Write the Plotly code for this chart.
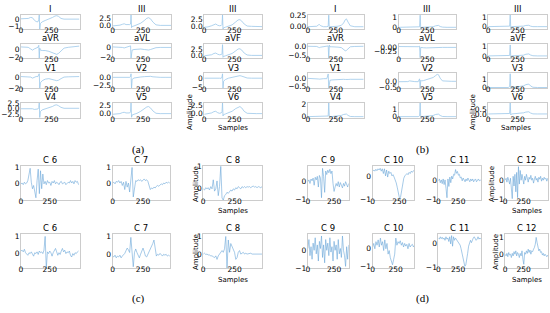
import plotly.graph_objects as go

W, H = 550, 313

# ---------------- data: panel (a) (12-lead ECG, class template) ----------------
xa = [0, 30, 60, 80, 95, 110, 125, 140, 147, 151, 155, 160, 175, 200, 230, 260, 280, 295, 310, 330, 355, 390, 430, 480]
a_I = [0.1, 0.12, 0.15, 0.3, 0.25, -0.1, -0.3, -0.35, 0.0, 0.7, -1.4, -0.6, -0.35, -0.15, 0.05, 0.3, 0.5, 0.55, 0.45, 0.15, 0.05, 0.05, 0.05, 0.05]
a_III = [-0.2, -0.1, 0.1, 0.4, 0.6, 0.3, 0.2, 0.3, 0.5, 3.9, -0.8, -0.4, -0.2, 0.2, 0.8, 1.8, 2.6, 2.8, 2.4, 1.2, 0.2, 0.0, 0.0, 0.0]
a_III_b = [-0.3, -0.2, 0.2, 0.7, 0.8, 0.4, 0.2, 0.3, 0.6, 4.0, -0.9, -0.5, -0.3, 0.0, 0.5, 1.5, 2.2, 2.3, 1.8, 0.8, 0.1, 0.0, -0.1, -0.1]
a_aVR = [0.6, 0.6, 0.5, 0.1, -0.2, 0.1, 0.4, 0.5, 1.0, -2.2, 0.3, -0.2, -0.3, -0.3, -0.5, -0.9, -1.2, -1.25, -1.0, -0.3, 0.3, 0.5, 0.6, 0.8]
a_aVL = [0.1, 0.1, 0.05, 0.0, -0.1, 0.0, 0.1, 0.2, 0.3, -2.1, -0.6, -0.5, -0.4, -0.3, -0.3, -0.4, -0.5, -0.5, -0.4, -0.2, -0.05, 0.0, 0.0, 0.0]
a_aVF = [-0.3, -0.2, 0.2, 0.8, 1.0, 0.5, 0.2, 0.3, 0.6, 5.0, -1.0, -0.6, -0.3, 0.1, 0.8, 2.0, 2.9, 3.0, 2.4, 1.0, 0.1, -0.1, -0.1, -0.1]
a_V1 = [0.2, 0.2, 0.2, 0.1, -0.1, 0.1, 0.2, 0.2, 0.6, 0.8, -2.1, -1.0, -0.6, -0.3, -0.2, -0.3, -0.5, -0.6, -0.5, -0.2, 0.1, 0.15, 0.2, 0.2]
a_V2 = [0.0, 0.0, 0.0, 0.05, 0.05, 0.0, 0.0, 0.0, 0.3, 1.1, -3.3, -0.6, -0.2, 0.0, 0.1, 0.2, 0.3, 0.35, 0.3, 0.15, 0.05, 0.0, 0.0, 0.0]
a_V3 = [0.3, 0.3, 0.4, 0.6, 0.7, 0.4, 0.3, 0.2, 1.0, 3.0, -5.8, -1.5, -0.5, 0.3, 0.8, 1.3, 1.7, 1.8, 1.5, 0.8, 0.4, 0.3, 0.3, 0.3]
a_V4 = [0.0, 0.0, 0.1, 0.2, 0.0, -0.3, -0.2, -0.1, 0.5, 2.6, -3.9, -1.2, -0.5, -0.1, 0.4, 1.0, 1.6, 1.7, 1.3, 0.6, 0.2, 0.2, 0.2, 0.2]
a_V5 = [-0.3, -0.3, -0.1, 0.2, 0.3, 0.1, 0.0, 0.1, 0.5, 3.2, -1.2, -0.5, -0.3, 0.0, 0.6, 1.4, 1.9, 2.0, 1.6, 0.7, 0.0, -0.1, -0.1, -0.1]
a_V6 = [-0.3, -0.2, 0.1, 0.5, 0.6, 0.2, 0.0, 0.1, 0.5, 3.2, -0.8, -0.4, -0.2, 0.1, 0.6, 1.4, 1.9, 2.0, 1.6, 0.6, 0.0, -0.1, -0.1, -0.1]

# ---------------- data: panel (b) ----------------
xb = [0, 40, 80, 95, 105, 115, 140, 170, 182, 187, 192, 198, 215, 240, 270, 300, 320, 335, 345, 360, 380, 420, 460, 500]
b_I = [0.0, 0.0, 0.01, 0.04, 0.045, 0.02, 0.0, 0.0, 0.01, 0.25, -0.05, 0.0, 0.0, 0.005, 0.01, 0.03, 0.08, 0.15, 0.17, 0.1, 0.02, 0.0, 0.0, 0.0]
b_III = [0.0, 0.0, 0.0, 0.03, 0.04, 0.02, 0.0, 0.0, 0.05, 1.25, -0.15, 0.0, 0.0, 0.0, 0.02, 0.06, 0.15, 0.22, 0.2, 0.08, 0.02, 0.0, 0.0, 0.0]
b_III_b = [0.0, 0.0, 0.0, 0.03, 0.03, 0.02, 0.0, 0.0, 0.05, 1.2, -0.2, 0.0, 0.0, 0.0, 0.02, 0.05, 0.12, 0.16, 0.14, 0.05, 0.0, 0.0, 0.0, 0.0]
b_aVR = [0.03, 0.03, 0.02, -0.03, -0.05, -0.02, 0.02, 0.03, 0.05, -0.7, 0.1, 0.0, 0.0, 0.0, -0.02, -0.05, -0.15, -0.24, -0.22, -0.1, 0.0, 0.02, 0.03, 0.03]
b_aVL = [0.03, 0.03, 0.02, 0.01, 0.0, 0.01, 0.02, 0.02, 0.05, -0.62, -0.02, -0.03, -0.04, -0.05, -0.04, -0.03, -0.01, 0.0, 0.0, -0.01, -0.02, -0.02, -0.02, -0.02]
b_aVF = [0.0, 0.0, 0.02, 0.05, 0.06, 0.03, 0.0, 0.0, 0.05, 1.2, -0.2, 0.0, 0.0, 0.0, 0.03, 0.08, 0.18, 0.24, 0.22, 0.1, 0.02, 0.0, 0.0, 0.0]
b_V1 = [0.02, 0.02, 0.01, -0.02, -0.03, -0.01, 0.0, 0.0, 0.3, -0.6, -0.15, -0.1, -0.08, -0.06, -0.06, -0.05, -0.04, -0.05, -0.06, -0.05, -0.04, -0.04, -0.04, -0.04]
b_V2 = [-0.06, -0.06, -0.05, 0.0, 0.0, -0.03, -0.05, -0.06, 0.15, -0.55, 0.05, 0.0, 0.02, 0.08, 0.15, 0.25, 0.38, 0.48, 0.45, 0.2, 0.0, -0.03, -0.03, -0.03]
b_V3 = [0.0, 0.0, 0.0, 0.05, 0.05, 0.02, 0.0, 0.0, 0.1, 1.7, -0.1, 0.0, 0.02, 0.05, 0.1, 0.2, 0.35, 0.45, 0.42, 0.2, 0.03, 0.0, 0.0, 0.0]
b_V4 = [0.0, 0.0, 0.0, 0.05, 0.05, 0.02, 0.0, 0.0, 0.1, 2.2, -0.15, 0.0, 0.02, 0.05, 0.1, 0.2, 0.35, 0.45, 0.42, 0.2, 0.03, 0.0, 0.0, 0.0]
b_V5 = [0.0, 0.0, 0.0, 0.04, 0.04, 0.02, 0.0, 0.0, 0.1, 1.8, -0.12, 0.0, 0.02, 0.04, 0.08, 0.15, 0.28, 0.35, 0.33, 0.15, 0.02, 0.0, 0.0, 0.0]
b_V6 = [0.0, 0.0, 0.0, 0.03, 0.03, 0.01, 0.0, 0.0, 0.05, 1.2, -0.1, 0.0, 0.01, 0.03, 0.06, 0.12, 0.2, 0.25, 0.23, 0.1, 0.01, 0.0, 0.0, 0.0]

# ---------------- data: panel (c) ----------------
xc6 = list(range(0, 501, 10))
xc78 = list(range(0, 471, 10))
c6_top = [0.0, 0.05, -0.05, 0.1, 0.0, 0.05, 0.2, 0.5, 0.95, 0.1, -0.3, -0.1, -0.6, -0.85, 0.2, 0.9, -0.6, 0.8, -0.3, 0.6,
          0.0, 0.15, -0.05, 0.2, 0.05, 0.1, -0.1, 0.15, 0.05, 0.2, 0.0, 0.1, 0.05, -0.05, 0.1, 0.15, 0.0, 0.05, 0.1, -0.05,
          0.0, 0.1, 0.05, 0.2, 0.05, 0.15, 0.0, 0.2, 0.1, 0.15, -0.05]
c7_top = [0.05, 0.1, 0.0, 0.15, 0.1, 0.2, 0.05, 0.15, -0.1, 0.1, -0.35, 0.15, -0.2, 0.05, -0.5, 0.3, 1.0, -0.8, -0.2, 0.2,
          0.15, 0.25, 0.2, 0.25, 0.15, 0.2, 0.3, 0.2, 0.25, 0.15, -0.1, -0.35, -0.25, -0.3, -0.2, -0.25, -0.15, -0.1, -0.15, -0.05,
          0.0, -0.05, 0.05, 0.0, 0.1, 0.05, 0.1, 0.05]
c8_top = [0.0, -0.05, 0.05, 0.0, 0.05, -0.05, 0.1, 0.0, 0.4, -0.1, 0.0, 0.35, -0.3, 0.1, 1.0, -0.4, -0.5, -0.3, -0.25, -0.15,
          -0.2, -0.1, -0.05, -0.1, 0.0, -0.05, 0.05, 0.0, 0.1, 0.05, 0.0, 0.1, 0.05, 0.1, 0.05, 0.1, 0.08, 0.1, 0.05, 0.1,
          0.12, 0.08, 0.1, 0.05, 0.1, 0.08, 0.05, 0.1]
c6_bot = [0.15, 0.2, 0.1, 0.25, 0.05, 0.0, -0.1, 0.05, 0.0, 0.1, -0.05, -0.15, 0.05, 0.0, 0.1, -0.05, 0.15, 0.05, 0.1, 0.0,
          0.2, 1.0, -0.85, 0.1, 0.0, 0.15, 0.05, -0.15, 0.05, 0.2, 0.3, 0.1, -0.1, 0.05, -0.05, 0.15, 0.3, 0.1, 0.2, 0.0,
          0.1, 0.05, 0.15, -0.1, -0.2, 0.0, -0.1, 0.05, 0.0, 0.1, 0.15]
c7_bot = [-0.1, -0.15, -0.05, -0.2, -0.1, -0.15, -0.05, -0.2, -0.1, -0.05, 0.05, 0.2, 0.35, 0.25, 0.1, 0.95, -0.2, -0.7, 0.1, 0.3,
          0.1, -0.1, -0.2, 0.0, 0.2, 0.35, 0.15, -0.1, -0.15, 0.0, 0.1, 0.2, 0.4, 0.6, 0.8, 0.2, -0.1, 0.0, -0.05, 0.05,
          0.0, -0.1, 0.0, -0.05, 0.0, -0.1, -0.05, -0.1]
c8_bot = [0.0, 0.05, -0.02, 0.0, -0.05, -0.05, -0.1, -0.1, -0.15, -0.2, -0.1, -0.3, -0.1, 0.0, 0.1, 0.2, 0.1, 0.3, 1.0, -0.8,
          0.8, 0.1, 0.6, 0.4, 0.3, 0.1, -0.3, -0.2, 0.1, 0.2, 0.0, 0.05, 0.1, 0.0, 0.05, 0.0, 0.02, 0.0, 0.05, 0.0,
          0.0, 0.02, 0.0, -0.02, 0.0, 0.02, 0.0, 0.0]

# ---------------- data: panel (d) ----------------
xd10 = list(range(0, 391, 10))
xd12a = list(range(0, 457, 12))
xd12b = list(range(0, 541, 12))
xd12c = list(range(0, 577, 12))
c9_top = [0.0, 0.1, -0.1, 0.15, 0.05, 0.2, -0.2, 0.25, 0.1, 0.3, -0.3, 0.35, 0.2, -0.9, 0.75, 0.3, -0.6, 0.6, 0.4, 0.65,
          0.5, 0.7, 0.45, 0.6, -0.1, -0.55, -0.3, -0.1, -0.25, 0.0, -0.3, -0.05, -0.2, -0.35, -0.1, -0.25, 0.0, -0.15, -0.3, -0.1]
c10_top = [0.2, 0.25, 0.2, 0.28, 0.22, 0.3, 0.25, 0.32, 0.2, 0.3, 0.1, 0.3, 0.0, 0.25, -0.05, 0.2, 0.1, 0.15, 0.0, 0.05,
           -0.05, -0.15, -0.3, -0.5, -0.75, -0.95, -0.9, -0.6, -0.3, -0.1, 0.0, 0.05, 0.1, 0.05, 0.15, 0.1, 0.2, 0.15, 0.22, 0.2]
c11_top = [0.0, 0.1, -0.1, 0.05, -0.15, 0.1, -0.2, 0.05, -0.4, -0.9, 0.1, -0.3, 0.2, -0.1, 0.25, 0.1, 0.35, 0.3, 0.6, 0.4,
           0.5, 0.3, 0.35, 0.15, 0.2, 0.0, 0.15, 0.05, -0.05, 0.1, 0.0, 0.15, 0.05, -0.05, 0.1, 0.0, 0.1, -0.05, 0.05, 0.1,
           -0.05, 0.05, 0.1, 0.0, 0.05, 0.0]
c12_top = [0.0, 0.1, -0.1, 0.15, 0.0, -0.2, 0.1, -0.5, -0.95, 0.2, -0.3, 0.3, -0.6, 0.4, -0.9, 0.7, -0.2, 0.5, 0.0, 0.3,
           0.1, -0.2, 0.2, 0.0, 0.3, 0.1, -0.1, 0.15, 0.05, 0.25, 0.0, 0.1, -0.15, 0.05, 0.2, 0.0, 0.1, -0.1, 0.15, 0.05,
           0.2, -0.05, 0.1, 0.0, 0.15, 0.05, 0.1, -0.05, 0.1]
c9_bot = [0.1, 0.6, -0.3, 0.2, -0.5, 0.4, 0.0, 0.7, -0.2, 0.3, -0.6, 0.5, 0.1, 0.8, -0.4, 0.3, -0.7, 0.6, 0.0, 0.4,
          -0.3, 0.7, -0.1, 0.2, -0.6, 0.5, 0.0, 0.3, -0.5, 0.6, -0.2, 0.1, -0.4, 0.8, 0.0, -0.3, -0.9, 0.2, -0.5, 0.3]
c10_bot = [0.1, 0.3, 0.0, 0.4, 0.2, 0.5, 0.1, 0.6, 0.2, 0.4, -0.1, 0.5, 0.0, 0.3, -0.3, -0.1, -0.5, -0.7, -0.9, -0.6,
           -0.3, 0.6, 0.2, 0.4, 0.3, 0.45, 0.2, 0.35, 0.1, 0.3, 0.15, 0.25, 0.0, 0.3, 0.1, 0.2, 0.25, 0.1, 0.2]
c11_bot = [0.25, 0.2, 0.3, 0.22, 0.28, 0.2, 0.25, 0.15, 0.3, 0.2, 0.25, 0.1, 0.3, 0.0, 0.35, -0.1, 0.3, 0.15, 0.25, 0.2,
           0.15, 0.1, 0.05, -0.05, -0.2, -0.4, -0.6, -0.8, -0.95, -0.9, -0.7, -0.4, -0.1, 0.1, 0.15, 0.05, 0.2, 0.25, 0.3, 0.2,
           0.15, 0.2, 0.3, 0.2, 0.25, 0.2]
c12_bot = [0.0, -0.1, 0.05, -0.15, 0.1, -0.05, 0.0, -0.2, 0.05, -0.1, 0.15, 0.0, 0.2, -0.1, 0.1, 0.0, -0.2, 0.05, -0.1, 0.2,
           -0.3, -0.6, 0.1, 0.0, 0.2, 0.05, 0.3, 0.1, 0.25, 0.0, 0.2, 0.15, 0.3, 0.4, 0.6, 1.0, 0.7, 0.4, 0.2, 0.3,
           0.1, 0.15, -0.05, 0.05, -0.1, 0.0, -0.05, -0.15, -0.05]

M = "\u2212"

# panel boxes in pixels (x0, x1, y0, y1)
A_COLS = [(19, 78), (111, 170), (203, 261)]
B_COLS = [(307, 363), (398, 456), (488, 547)]
AB_ROWS = [(11, 26), (41.5, 56), (71.5, 87), (101.5, 117)]
C_COLS = [(19, 78), (111, 169), (202, 261)]
D_COLS = [(307, 348), (372, 414), (438, 481), (505, 548)]
CD_ROWS = [(167, 202), (237, 272)]

# (title, x, y, xmax, yrange, tickvals, ticktext)
panel_a = [
    ("I", xa, a_I, 484, [-1.43, 0.7], [-1, 0], [M + "1", "0"]),
    ("III", xa, a_III, 481, [-1.4, 3.9], [0, 2.5], ["0.0", "2.5"]),
    ("III", xa, a_III_b, 478, [-1.0, 4.0], [0, 2.5], ["0.0", "2.5"]),
    ("aVR", xa, a_aVR, 484, [-2.25, 1.25], [-2, 0], [M + "2", "0"]),
    ("aVL", xa, a_aVL, 481, [-2.1, 0.6], [-2, 0], [M + "2", "0"]),
    ("aVF", xa, a_aVF, 478, [-1.5, 5.1], [0, 2.5], ["0.0", "2.5"]),
    ("V1", xa, a_V1, 484, [-2.1, 0.8], [-2, 0], [M + "2", "0"]),
    ("V2", xa, a_V2, 481, [-3.3, 1.15], [-2.5, 0], [M + "2.5", "0.0"]),
    ("V3", xa, a_V3, 478, [-5.8, 3.1], [-5, 0], [M + "5", "0"]),
    ("V4", xa, a_V4, 484, [-3.9, 2.7], [-2.5, 0, 2.5], [M + "2.5", "0.0", "2.5"]),
    ("V5", xa, a_V5, 481, [-1.3, 3.2], [0, 2.5], ["0.0", "2.5"]),
    ("V6", xa, a_V6, 478, [-1.3, 3.2], [0, 2.5], ["0.0", "2.5"]),
]
panel_b = [
    ("I", xb, b_I, 500, [-0.055, 0.26], [0, 0.25], ["0.00", "0.25"]),
    ("III", xb, b_III, 500, [-0.2, 1.3], [0, 1], ["0", "1"]),
    ("III", xb, b_III_b, 500, [-0.27, 1.23], [0, 1], ["0", "1"]),
    ("aVR", xb, b_aVR, 500, [-0.7, 0.15], [-0.5, 0], [M + "0.5", "0.0"]),
    ("aVL", xb, b_aVL, 500, [-0.66, 0.16], [-0.25, 0], [M + "0.25", "0.00"]),
    ("aVF", xb, b_aVF, 500, [-0.27, 1.27], [0, 1], ["0", "1"]),
    ("V1", xb, b_V1, 500, [-0.62, 0.33], [-0.5, 0], [M + "0.5", "0.0"]),
    ("V2", xb, b_V2, 500, [-0.55, 0.54], [-0.5, 0], [M + "0.5", "0.0"]),
    ("V3", xb, b_V3, 500, [-0.12, 1.72], [0, 1], ["0", "1"]),
    ("V4", xb, b_V4, 500, [-0.16, 2.27], [0, 2], ["0", "2"]),
    ("V5", xb, b_V5, 500, [-0.13, 1.83], [0, 1], ["0", "1"]),
    ("V6", xb, b_V6, 500, [-0.39, 1.21], [0, 0.5], ["0.0", "0.5"]),
]
panel_c = [
    ("C 6", xc6, c6_top, 510, [-1.0, 1.08], [0, 1], ["0", "1"]),
    ("C 7", xc78, c7_top, 475, [-1.0, 1.08], [0, 1], ["0", "1"]),
    ("C 8", xc78, c8_top, 470, [-0.5, 1.0], [0, 1], ["0", "1"]),
    ("C 6", xc6, c6_bot, 510, [-0.85, 1.13], [0, 1], ["0", "1"]),
    ("C 7", xc78, c7_bot, 475, [-0.78, 1.13], [0, 1], ["0", "1"]),
    ("C 8", xc78, c8_bot, 470, [-0.8, 1.13], [0, 1], ["0", "1"]),
]
panel_d = [
    ("C 9", xd10, c9_top, 390, [-1.04, 0.87], [-1, 0], [M + "1", "0"]),
    ("C 10", xd10, c10_top, 390, [-1.03, 0.41], [-1, 0], [M + "1", "0"]),
    ("C 11", xd12b, c11_top, 540, [-1.03, 0.78], [-1, 0], [M + "1", "0"]),
    ("C 12", xd12c, c12_top, 580, [-1.03, 0.72], [-1, 0], [M + "1", "0"]),
    ("C 9", xd10, c9_bot, 390, [-1.0, 0.9], [-1, 0], [M + "1", "0"]),
    ("C 10", xd12a, c10_bot, 455, [-1.09, 0.82], [-1, 0], [M + "1", "0"]),
    ("C 11", xd12b, c11_bot, 545, [-1.03, 0.41], [-1, 0], [M + "1", "0"]),
    ("C 12", xd12c, c12_bot, 580, [-0.83, 1.19], [0, 1], ["0", "1"]),
]

fig = go.Figure()
annotations = []
FONT = "DejaVu Sans"
FRAME = "#cccccc"
idx = [0]


def add_sub(box, spec, color, lw):
    idx[0] += 1
    i = idx[0]
    (x0, x1), (y0, y1) = box
    title, xs, ys, xmax, yr, tv, tt = spec
    sfx = "" if i == 1 else str(i)
    fig.add_trace(go.Scatter(x=xs, y=ys, mode="lines", line=dict(color=color, width=lw),
                             xaxis="x" + sfx, yaxis="y" + sfx, showlegend=False, hoverinfo="skip"))
    common = dict(showgrid=False, zeroline=False, showline=True, mirror=True, linecolor=FRAME,
                  linewidth=1, ticks="", tickfont=dict(family=FONT, size=7.5, color="black"))
    fig.update_layout({
        "xaxis" + sfx: dict(domain=[x0 / W, x1 / W], anchor="y" + sfx, range=[0, xmax],
                            tickvals=[0, 250], ticktext=["0", "250"], ticklabelstandoff=-6, **common),
        "yaxis" + sfx: dict(domain=[1 - y1 / H, 1 - y0 / H], anchor="x" + sfx, range=yr,
                            tickvals=tv, ticktext=tt, ticklabelstandoff=-1, **common),
    })
    annotations.append(dict(text=title, x=(x0 + x1) / 2 / W, y=1 - (y0 - 6) / H, xref="paper", yref="paper",
                            xanchor="center", yanchor="middle", showarrow=False, borderpad=0,
                            font=dict(family=FONT, size=8.5, color="black")))


LC_AB = "#9cc8ea"
LC_CD = "#6aa6d8"
for k, spec in enumerate(panel_a):
    add_sub((A_COLS[k % 3], AB_ROWS[k // 3]), spec, LC_AB, 0.8)
for k, spec in enumerate(panel_b):
    add_sub((B_COLS[k % 3], AB_ROWS[k // 3]), spec, LC_AB, 0.8)
for k, spec in enumerate(panel_c):
    add_sub((C_COLS[k % 3], CD_ROWS[k // 3]), spec, LC_CD, 0.6)
for k, spec in enumerate(panel_d):
    add_sub((D_COLS[k % 4], CD_ROWS[k // 4]), spec, LC_CD, 0.6)


def txt(s, x, y, size=7, angle=0, family=FONT):
    annotations.append(dict(text=s, x=x / W, y=1 - y / H, xref="paper", yref="paper", xanchor="center",
                            yanchor="middle", showarrow=False, textangle=angle,
                            font=dict(family=family, size=size, color="black")))


# axis labels
for (ax, ay, sx, sy) in [(188, 111, 232, 128), (473, 111, 516, 128),
                         (194, 185, 232, 213), (194, 255, 232, 284),
                         (491, 185, 527, 213), (495, 255, 527, 284)]:
    txt("Amplitude", ax, ay, angle=-90)
    txt("Samples", sx, sy)

# panel letters
for s, x, y in [("(a)", 137, 150), ("(b)", 422, 150), ("(c)", 137, 303), ("(d)", 422, 303)]:
    txt(s, x, y, size=11, family="Liberation Serif")

fig.update_layout(width=W, height=H, margin=dict(l=0, r=0, t=0, b=0), paper_bgcolor="white",
                  plot_bgcolor="white", annotations=annotations)
fig.write_html("out.html", config={"displayModeBar": False},
               post_script="document.body.style.margin='0px';")
